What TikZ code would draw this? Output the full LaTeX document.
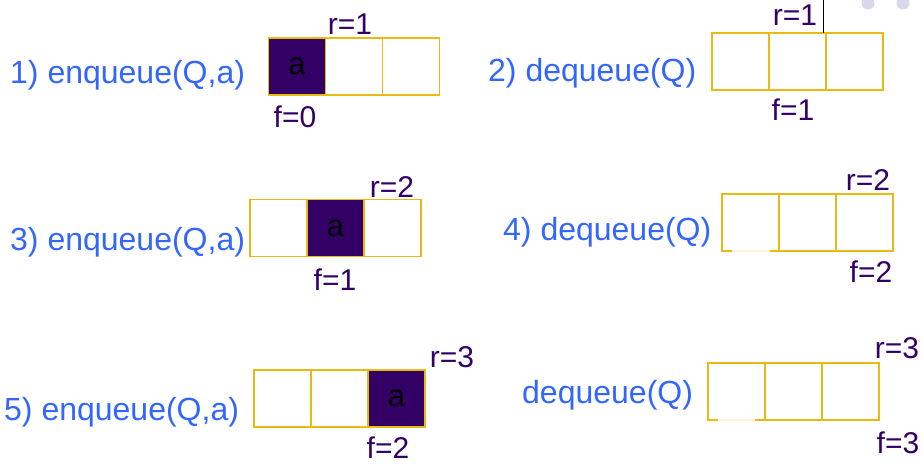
\documentclass[tikz,border=0pt]{standalone}
\usepackage{fontspec}
\setmainfont{Liberation Sans}
\definecolor{opblue}{RGB}{51,102,255}
\definecolor{ptrpurple}{RGB}{51,0,102}
\definecolor{cellgold}{RGB}{232,186,20}
\definecolor{dotgray}{RGB}{216,216,236}
\tikzset{
  cell/.style={draw=cellgold, line width=1.4pt, minimum width=57pt, minimum height=57pt,
    inner sep=0pt, outer sep=0pt, fill=white},
  full/.style={cell, fill=ptrpurple, font=\fontsize{31}{31}\selectfont, text=black},
  oplabel/.style={text=opblue, font=\fontsize{32}{32}\selectfont, inner sep=0pt},
  ptr/.style={text=ptrpurple, font=\fontsize{30}{30}\selectfont, inner sep=0pt},
}
\begin{document}
\begin{tikzpicture}[x=1pt, y=-1pt]
\useasboundingbox (0,0) rectangle (923,463);
\fill[white] (0,0) rectangle (923,463);

% decorative dots, top right
\fill[dotgray] (868,3) circle (6.5);
\fill[dotgray] (903,3) circle (6.5);

% 1) enqueue(Q,a)
\node[oplabel, anchor=west] (op1) at (10,75) {1) enqueue(Q,a)};
\node[full] (q1a) at (297,66.5) {a};
\node[cell] (q1b) at (354,66.5) {};
\node[cell] (q1c) at (411,66.5) {};
\draw[cellgold, line width=1.4pt] (q1a.north west) rectangle (q1a.south east);
\node[ptr] (r1) at (350,24) {r=1};
\node[ptr] (f1) at (295,117) {f=0};

% 2) dequeue(Q)
\node[oplabel, anchor=west] (op2) at (488,73) {2) dequeue(Q)};
\node[cell] (q2a) at (740.5,61.5) {};
\node[cell] (q2b) at (797.5,61.5) {};
\node[cell] (q2c) at (854.5,61.5) {};
\node[ptr] (r2) at (795,15) {r=1};
\node[ptr] (f2) at (793,110) {f=1};
\coordinate (rmark) at (823,0);
\draw[black, line width=0.8pt] (rmark) -- (rmark |- q2b.north);

% 3) enqueue(Q,a)
\node[oplabel, anchor=west] (op3) at (10,242) {3) enqueue(Q,a)};
\node[cell] (q3a) at (278.5,228) {};
\node[full] (q3b) at (335.5,228) {a};
\node[cell] (q3c) at (392.5,228) {};
\draw[cellgold, line width=1.4pt] (q3b.north west) rectangle (q3b.south east);
\node[ptr] (r3) at (392,187) {r=2};
\node[ptr] (f3) at (335,280) {f=1};

% 4) dequeue(Q)
\node[oplabel, anchor=west] (op4) at (503,232) {4) dequeue(Q)};
\node[cell] (q4a) at (750.5,222.5) {};
\node[cell] (q4b) at (807.5,222.5) {};
\node[cell] (q4c) at (864.5,222.5) {};
\draw[white, line width=1.4pt, opacity=0.85] (732,251) -- (770,251);
\node[ptr] (r4) at (868,180) {r=2};
\node[ptr] (f4) at (871,272) {f=2};

% 5) enqueue(Q,a)
\node[oplabel, anchor=west] (op5) at (4,412) {5) enqueue(Q,a)};
\node[cell] (q5a) at (282.5,398.5) {};
\node[cell] (q5b) at (339.5,398.5) {};
\node[full] (q5c) at (396.5,398.5) {a};
\draw[cellgold, line width=1.4pt] (q5c.north west) rectangle (q5c.south east);
\node[ptr] (r5) at (452,357) {r=3};
\node[ptr] (f5) at (388,448) {f=2};

% dequeue(Q)
\node[oplabel, anchor=west] (op6) at (522,395) {dequeue(Q)};
\node[cell] (q6a) at (736.5,391.5) {};
\node[cell] (q6b) at (793.5,391.5) {};
\node[cell] (q6c) at (850.5,391.5) {};
\draw[white, line width=1.4pt, opacity=0.85] (718,420) -- (755,420);
\node[ptr] (r6) at (897,348) {r=3};
\node[ptr] (f6) at (898,443) {f=3};
\end{tikzpicture}
\end{document}
